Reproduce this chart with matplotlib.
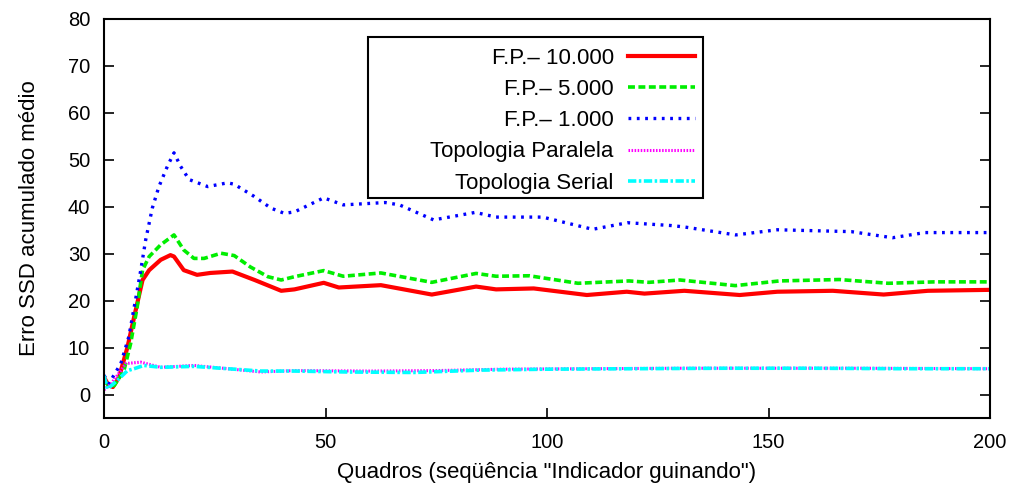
import matplotlib
matplotlib.use("Agg")
import matplotlib.pyplot as plt
from matplotlib.patches import Rectangle

# frames and mean accumulated SSD error
fp10k_x = [0, 1, 2, 3.4, 5.3, 6.8, 8.7, 10.2, 12.8, 15, 15.8, 18, 21, 24, 29, 34, 40, 43,
           49.6, 53, 62.5, 74, 84, 88.5, 97, 109, 118, 122, 131, 143.5, 152, 164.5, 176, 186, 200]
fp10k_y = [3.7, 2.0, 1.6, 3.7, 10.1, 16.5, 24.4, 26.5, 28.7, 29.7, 29.4, 26.5, 25.5, 25.9, 26.2, 24.4, 22.1, 22.4,
           23.8, 22.8, 23.3, 21.3, 23.0, 22.4, 22.6, 21.2, 21.9, 21.5, 22.1, 21.2, 21.9, 22.1, 21.3, 22.1, 22.3]

fp5k_x = [0, 1, 2.3, 4.5, 6, 7.5, 8.7, 10.2, 12.8, 15.8, 18, 20.3, 22.6, 26.4, 29.4, 33, 37, 40, 43,
          49.6, 54, 62.5, 74, 84, 88.5, 96, 107, 118.5, 123, 130, 142.5, 152.5, 166, 177, 187.5, 200]
fp5k_y = [3.0, 2.0, 1.9, 5.1, 10.8, 18.7, 26.5, 29.4, 31.9, 34.0, 30.8, 29.0, 29.0, 30.1, 29.6, 27.2, 25.1, 24.4, 25.1,
          26.4, 25.2, 25.9, 23.9, 25.8, 25.2, 25.3, 23.7, 24.2, 23.9, 24.4, 23.2, 24.2, 24.5, 23.7, 24.0, 24.0]

fp1k_x = [0, 1.1, 3.8, 5.6, 7.1, 8.3, 9.4, 10.9, 12.4, 14.3, 15.8, 17.3, 19.2, 23.4, 27.9, 29.4, 33.9, 37.7, 40.7, 43,
          49.6, 54, 63.5, 66.7, 74.4, 83.8, 88.5, 99, 110.3, 118.2, 128, 131, 142.6, 152, 168.7, 178, 185.3, 200]
fp1k_y = [4.1, 2.3, 6.6, 12.3, 20.1, 26.5, 32.9, 39.7, 44.3, 48.6, 51.5, 48.6, 45.8, 44.3, 45.1, 44.8, 42.2, 39.7, 38.6, 38.9,
          41.9, 40.4, 40.9, 40.4, 37.2, 38.8, 37.8, 37.8, 35.2, 36.6, 36.0, 35.7, 34.0, 35.1, 34.7, 33.4, 34.5, 34.5]

paralela_x = [0, 1.6, 3.8, 4.9, 8.3, 12.8, 20.3, 27.9, 35.4, 43, 60, 75, 90, 110, 130, 150, 170, 200]
paralela_y = [1.0, 2.3, 5.1, 6.6, 6.9, 5.8, 6.2, 5.5, 4.8, 5.1, 5.0, 5.1, 5.4, 5.5, 5.6, 5.6, 5.6, 5.5]

serial_x = [0, 0.8, 3, 5.3, 6.8, 9, 12.8, 20.3, 27.9, 35.4, 43, 55, 70, 85, 100, 120, 140, 160, 180, 200]
serial_y = [4.0, 1.2, 3.0, 5.1, 5.5, 6.2, 5.8, 6.0, 5.5, 5.0, 5.0, 4.8, 4.7, 5.2, 5.4, 5.5, 5.6, 5.6, 5.5, 5.5]

labels = ["F.P.\u2013 10.000", "F.P.\u2013 5.000", "F.P.\u2013 1.000", "Topologia Paralela", "Topologia Serial"]
x_ticks = [0, 50, 100, 150, 200]
y_ticks = [0, 10, 20, 30, 40, 50, 60, 70, 80]

plt.rcParams.update({
    "font.family": ["Liberation Sans", "DejaVu Sans"],
    "font.size": 14,
    "lines.scale_dashes": False,
})

fig = plt.figure(figsize=(10.17, 4.92), dpi=100)
ax = fig.add_axes([104 / 1017, 1 - 418 / 492, 886 / 1017, 399 / 492])

ax.plot(fp10k_x, fp10k_y, color="#FF0000", lw=3.0, label=labels[0])
ax.plot(fp5k_x, fp5k_y, color="#00EE00", lw=2.6, dashes=(5, 2.5), label=labels[1])
ax.plot(fp1k_x, fp1k_y, color="#0000FF", lw=2.4, dashes=(2, 4), dash_capstyle="butt", label=labels[2])
ax.plot(paralela_x, paralela_y, color="#FF00FF", lw=2.2, dashes=(1.1, 1.1), label=labels[3])
ax.plot(serial_x, serial_y, color="#00FFFF", lw=2.6, dashes=(6, 1.8, 1.8, 1.8), label=labels[4])

ax.set_xlim(0, 200)
ax.set_ylim(-5, 80)
ax.set_xticks(x_ticks)
ax.set_yticks(y_ticks)
ax.tick_params(axis="both", direction="in", length=7, width=1.2, labelsize=14.5)
ax.tick_params(axis="x", pad=11)
ax.tick_params(axis="y", pad=10, right=True)
for spine in ax.spines.values():
    spine.set_linewidth(1.5)

ax.set_xlabel("Quadros (seq\u00fc\u00eancia \"Indicador guinando\")", fontsize=16, labelpad=7)
ax.set_ylabel("Erro SSD acumulado m\u00e9dio", fontsize=16, labelpad=20)

# gnuplot-style key: fixed box, labels right-aligned, samples on the right
ax.add_patch(Rectangle((0.298, 0.551), 0.378, 0.404, transform=ax.transAxes,
                       facecolor="white", edgecolor="black", lw=1.5, zorder=4))
leg = ax.legend(loc="upper right", bbox_to_anchor=(0.667, 0.928), markerfirst=False,
                frameon=False, fontsize=16, handlelength=3.0, handletextpad=0.65,
                labelspacing=0.46, borderpad=0, borderaxespad=0)
leg.set_zorder(5)

fig.savefig("out.png", dpi=100, facecolor="white")
